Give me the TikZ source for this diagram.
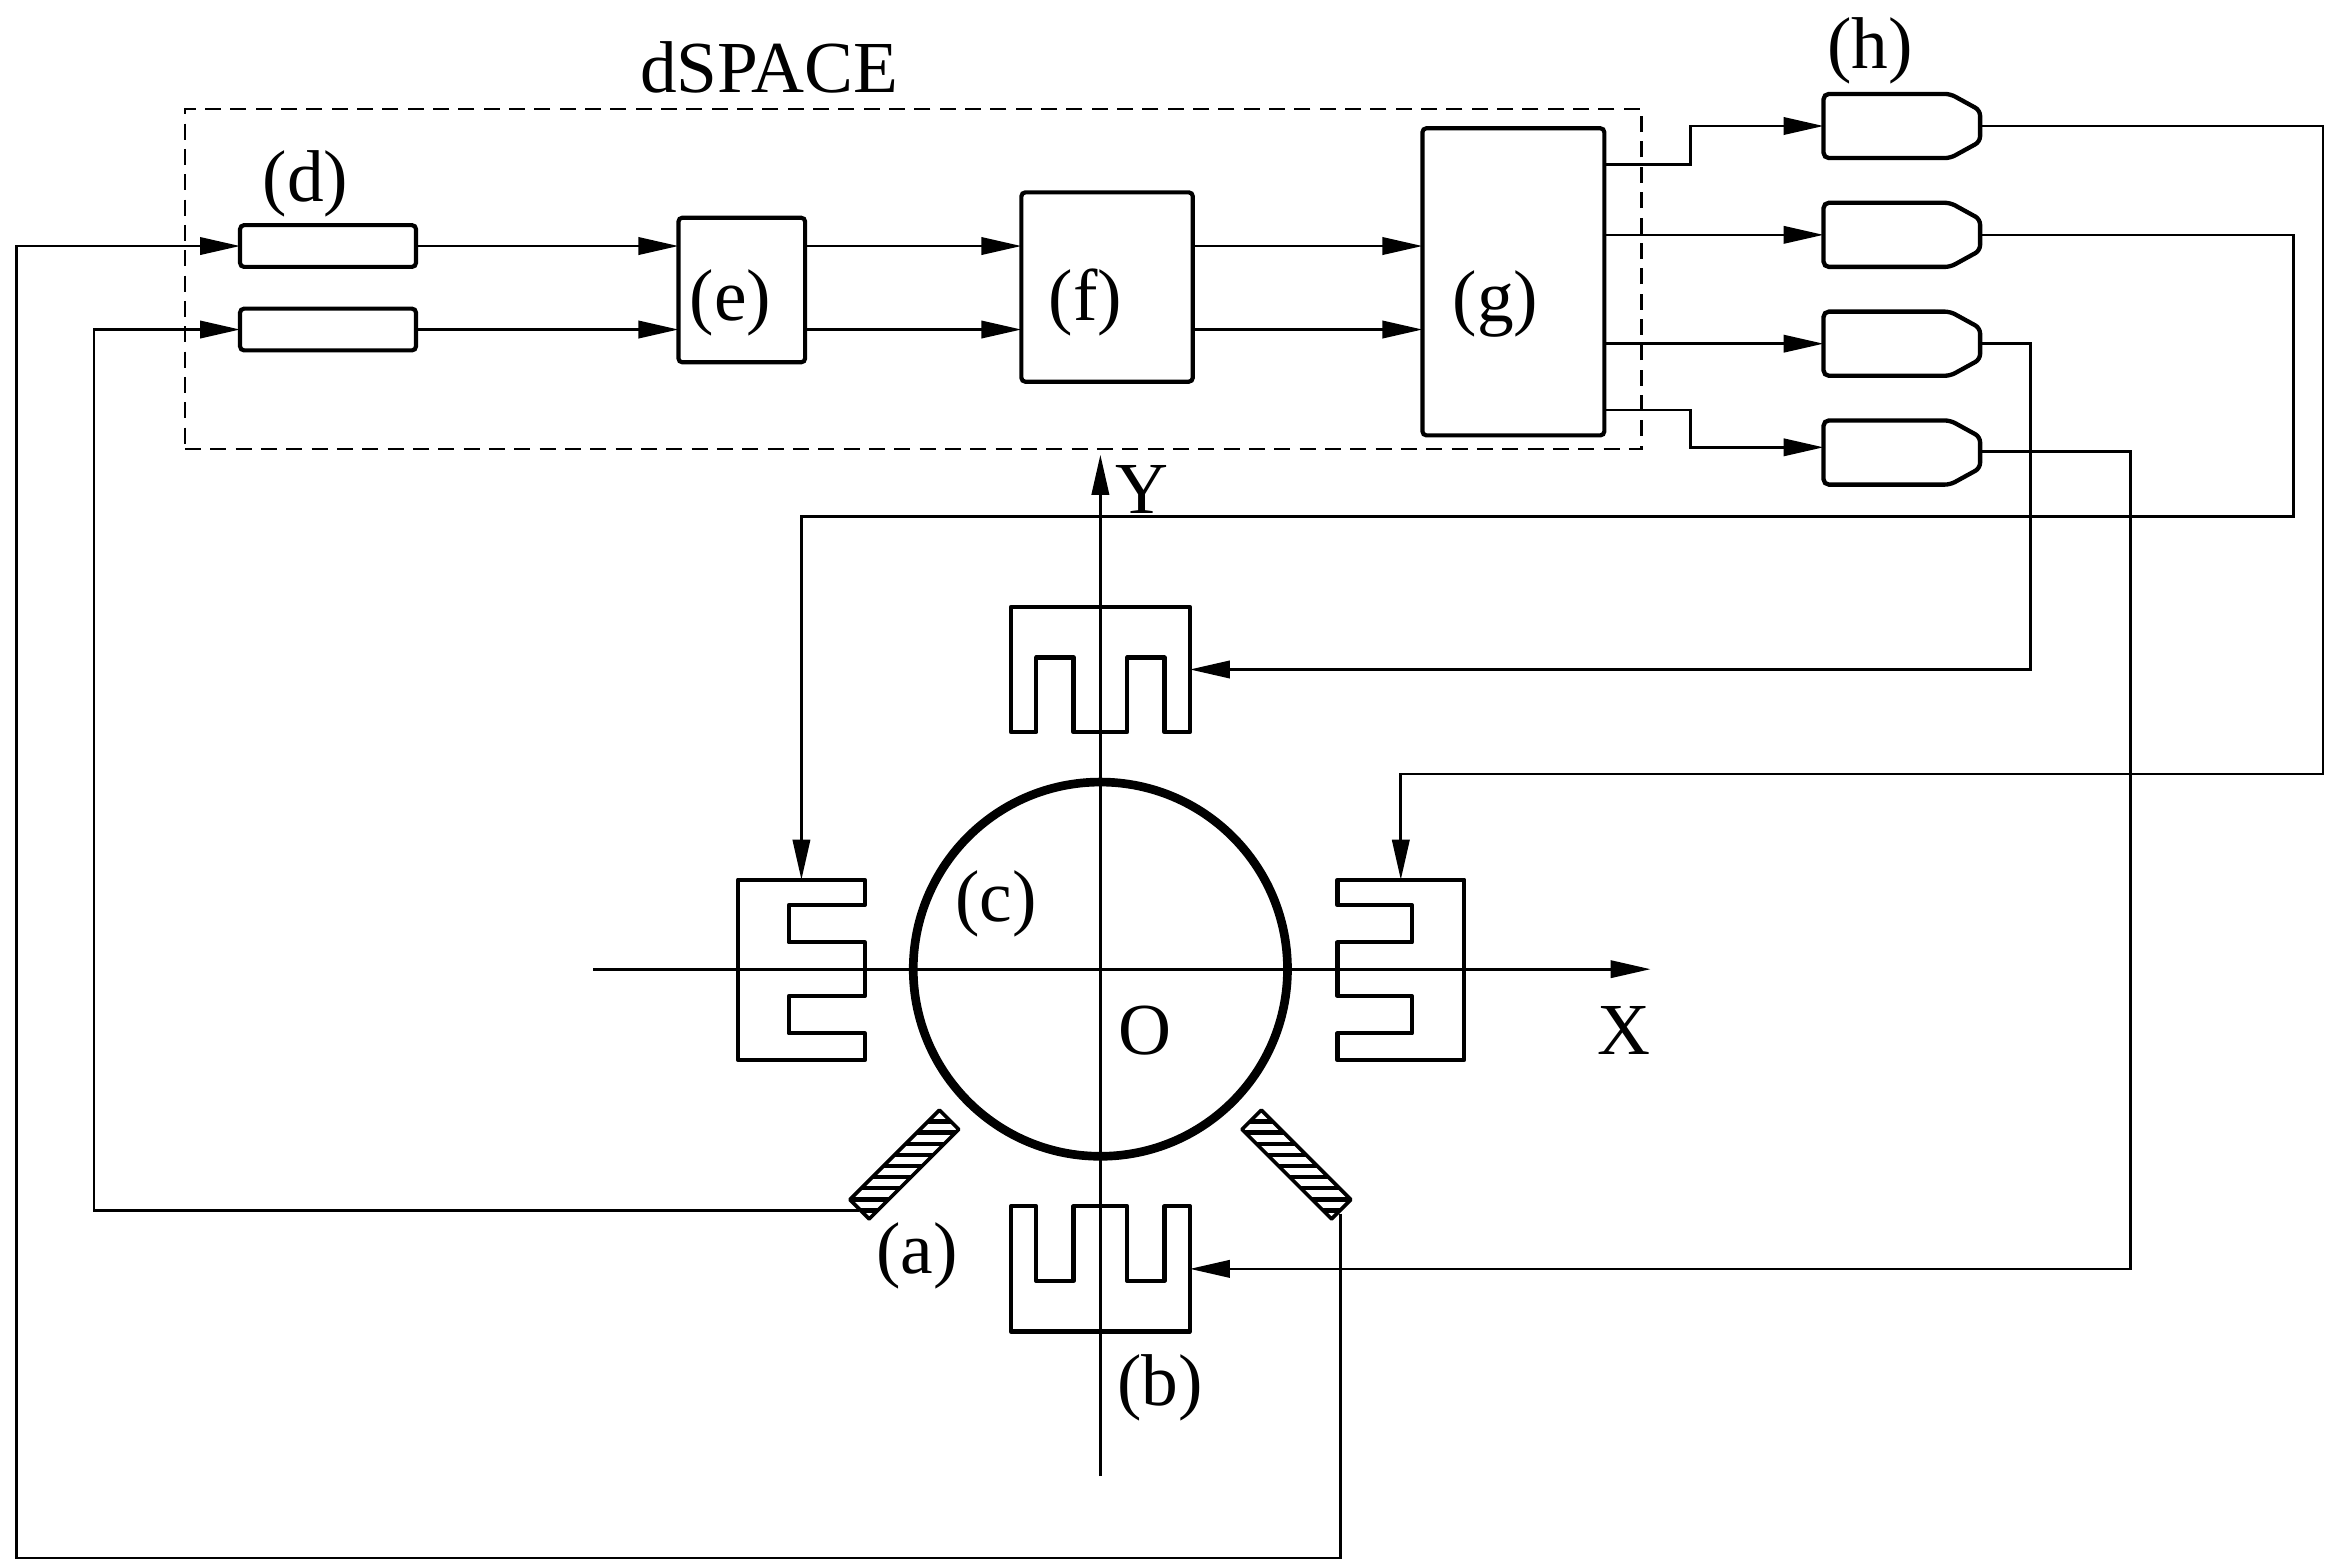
\documentclass[tikz,border=0pt]{standalone}
\usepackage{fontspec}
\setmainfont{Liberation Serif}
\usetikzlibrary{arrows.meta,calc}
\tikzset{
  conn/.style={line width=0.8pt,-{Triangle[length=12pt,width=5.2pt]},line join=miter},
  blk/.style={draw,line width=1.25pt,rounded corners=1.2pt,inner sep=0,outer sep=0},
  ghost/.style={inner sep=0,outer sep=0},
  act/.style={line width=1.25pt,line join=round},
  lbl/.style={inner sep=0,outer sep=0,font=\fontsize{22}{26}\selectfont},
  sens/.style={draw,line width=1.1pt,inner sep=0,outer sep=0,minimum width=38pt,minimum height=8.2pt,line join=round},
  hatchl/.style={line width=1.45pt}
}
\newcommand{\bx}[6][blk]{\node[#1,minimum width={(#4-#2)*0.4473pt},minimum height={(#5-#3)*0.4473pt}] (#6) at ({(#2+#4)/2},{(#3+#5)/2}) {};}
\begin{document}
\begin{tikzpicture}[x=0.4473pt,y=-0.4473pt]
\useasboundingbox (0,0) rectangle (1560,1047.6);
% dSPACE frame
\node[draw,line width=0.75pt,dash pattern=on 4.8pt off 2.8pt,inner sep=0,outer sep=0,minimum width={977*0.4473pt},minimum height={228*0.4473pt}] (frame) at (612.5,187) {};
% blocks
\bx{161}{151}{279}{179}{d1}
\bx{161}{207}{279}{235}{d2}
\bx{455}{146}{540}{243}{e}
\bx{685}{129}{800}{256}{f}
\bx{954}{86}{1076}{292}{g}
% driver blocks
\bx[ghost]{1223}{63}{1328}{106}{h1}
\bx[ghost]{1223}{136}{1328}{179}{h2}
\bx[ghost]{1223}{209}{1328}{252}{h3}
\bx[ghost]{1223}{282}{1328}{325}{h4}
\foreach \n in {h1,h2,h3,h4}{
  \draw[line width=1.3pt,rounded corners=1.6pt] (\n.north west) -- ($(\n.north east)+(-20,0)$) -- ($(\n.north east)+(0,11)$) -- ($(\n.south east)+(0,-11)$) -- ($(\n.south east)+(-20,0)$) -- (\n.south west) -- cycle;
}
% actuators
\bx[ghost]{678}{407}{798}{491}{actT}
\bx[ghost]{678}{809}{798}{893}{actB}
\bx[ghost]{495}{590}{580}{711}{actL}
\bx[ghost]{897}{590}{982}{711}{actR}
\draw[act] (678,491)--(678,407)--(798,407)--(798,491)--(781,491)--(781,441)--(756,441)--(756,491)--(720,491)--(720,441)--(695,441)--(695,491)--cycle;
\draw[act] (678,809)--(678,893)--(798,893)--(798,809)--(781,809)--(781,859)--(756,859)--(756,809)--(720,809)--(720,859)--(695,859)--(695,809)--cycle;
\draw[act] (580,590)--(495,590)--(495,711)--(580,711)--(580,693)--(529,693)--(529,668)--(580,668)--(580,632)--(529,632)--(529,607)--(580,607)--cycle;
\draw[act] (897,590)--(982,590)--(982,711)--(897,711)--(897,693)--(947,693)--(947,668)--(897,668)--(897,632)--(947,632)--(947,607)--(897,607)--cycle;
% rotor
\node[draw,circle,line width=2.6pt,inner sep=0,outer sep=0,minimum size={251*0.4473pt}] (rotor) at (738,650) {};
% sensors
\node[sens,rotate=45] (sa) at (606.5,781) {};
\node[sens,rotate=-45] (sb) at (869.5,781) {};
\begin{scope}
\clip (sa.north west)--(sa.north east)--(sa.south east)--(sa.south west)--cycle;
\foreach \yy in {745,752.4,...,825}{\draw[hatchl] (560,\yy)--(650,\yy);}
\end{scope}
\begin{scope}
\clip (sb.north west)--(sb.north east)--(sb.south east)--(sb.south west)--cycle;
\foreach \yy in {745,752.4,...,825}{\draw[hatchl] (825,\yy)--(915,\yy);}
\end{scope}
\coordinate (pa) at (576,812);
\coordinate (pb) at (899,814);
% axes
\coordinate (xs) at (398,650);
\coordinate (xe) at (1107,650);
\coordinate (ys) at (738,990);
\coordinate (ye) at (738,305);
\draw[conn] (xs)--(xe);
\draw[conn] (ys)--(ye);
% signal chain
\draw[conn] (d1.east)--(d1.east -| e.west);
\draw[conn] (d2.east)--(d2.east -| e.west);
\draw[conn] (d1 -| e.east)--(d1 -| f.west);
\draw[conn] (d2 -| e.east)--(d2 -| f.west);
\draw[conn] (d1 -| f.east)--(d1 -| g.west);
\draw[conn] (d2 -| f.east)--(d2 -| g.west);
% g to h
\coordinate (g1) at (1076,110.5);
\coordinate (g4) at (1076,275);
\coordinate (m1) at (1134,110.5);
\coordinate (m4) at (1134,275);
\draw[conn] (g1)--(m1)|-(h1.west);
\draw[conn] (h2 -| g.east)--(h2.west);
\draw[conn] (h3 -| g.east)--(h3.west);
\coordinate (h4in) at (1223,300);
\draw[conn] (g4)--(m4)|-(h4in);
% h to actuators
\coordinate (r1) at (1558,519);
\coordinate (r2) at (1538,346.5);
\coordinate (r3) at (1362,449);
\coordinate (r4) at (1429,851);
\coordinate (h4out) at (1328,303);
\draw[conn] (h1.east)-|(r1)-|(actR.north);
\draw[conn] (h2.east)-|(r2)-|(actL.north);
\draw[conn] (h3.east)-|(r3)--(actT.east);
\draw[conn] (h4out)-|(r4)--(actB.east);
% sensors to d
\coordinate (w1) at (11,1045);
\coordinate (w2) at (63,812);
\draw[conn] (pb)|-(w1)--(w1 |- d1)--(d1.west);
\draw[conn] (pa)--(w2)--(w2 |- d2)--(d2.west);
% labels
\node[lbl] (tdspace) at (516,45) {dSPACE};
\node[lbl] (td) at (205,123) {(d)};
\node[lbl] (te) at (490,203) {(e)};
\node[lbl] (tf) at (728,203) {(f)};
\node[lbl] (tg) at (1003,204) {(g)};
\node[lbl] (th) at (1254,34) {(h)};
\node[lbl] (ta) at (615,842) {(a)};
\node[lbl] (tb) at (778,931) {(b)};
\node[lbl] (tc) at (668,606) {(c)};
\node[lbl] (tO) at (768,691) {O};
\node[lbl] (tX) at (1089,691) {X};
\node[lbl] (tY) at (766,328) {Y};
\end{tikzpicture}
\end{document}
